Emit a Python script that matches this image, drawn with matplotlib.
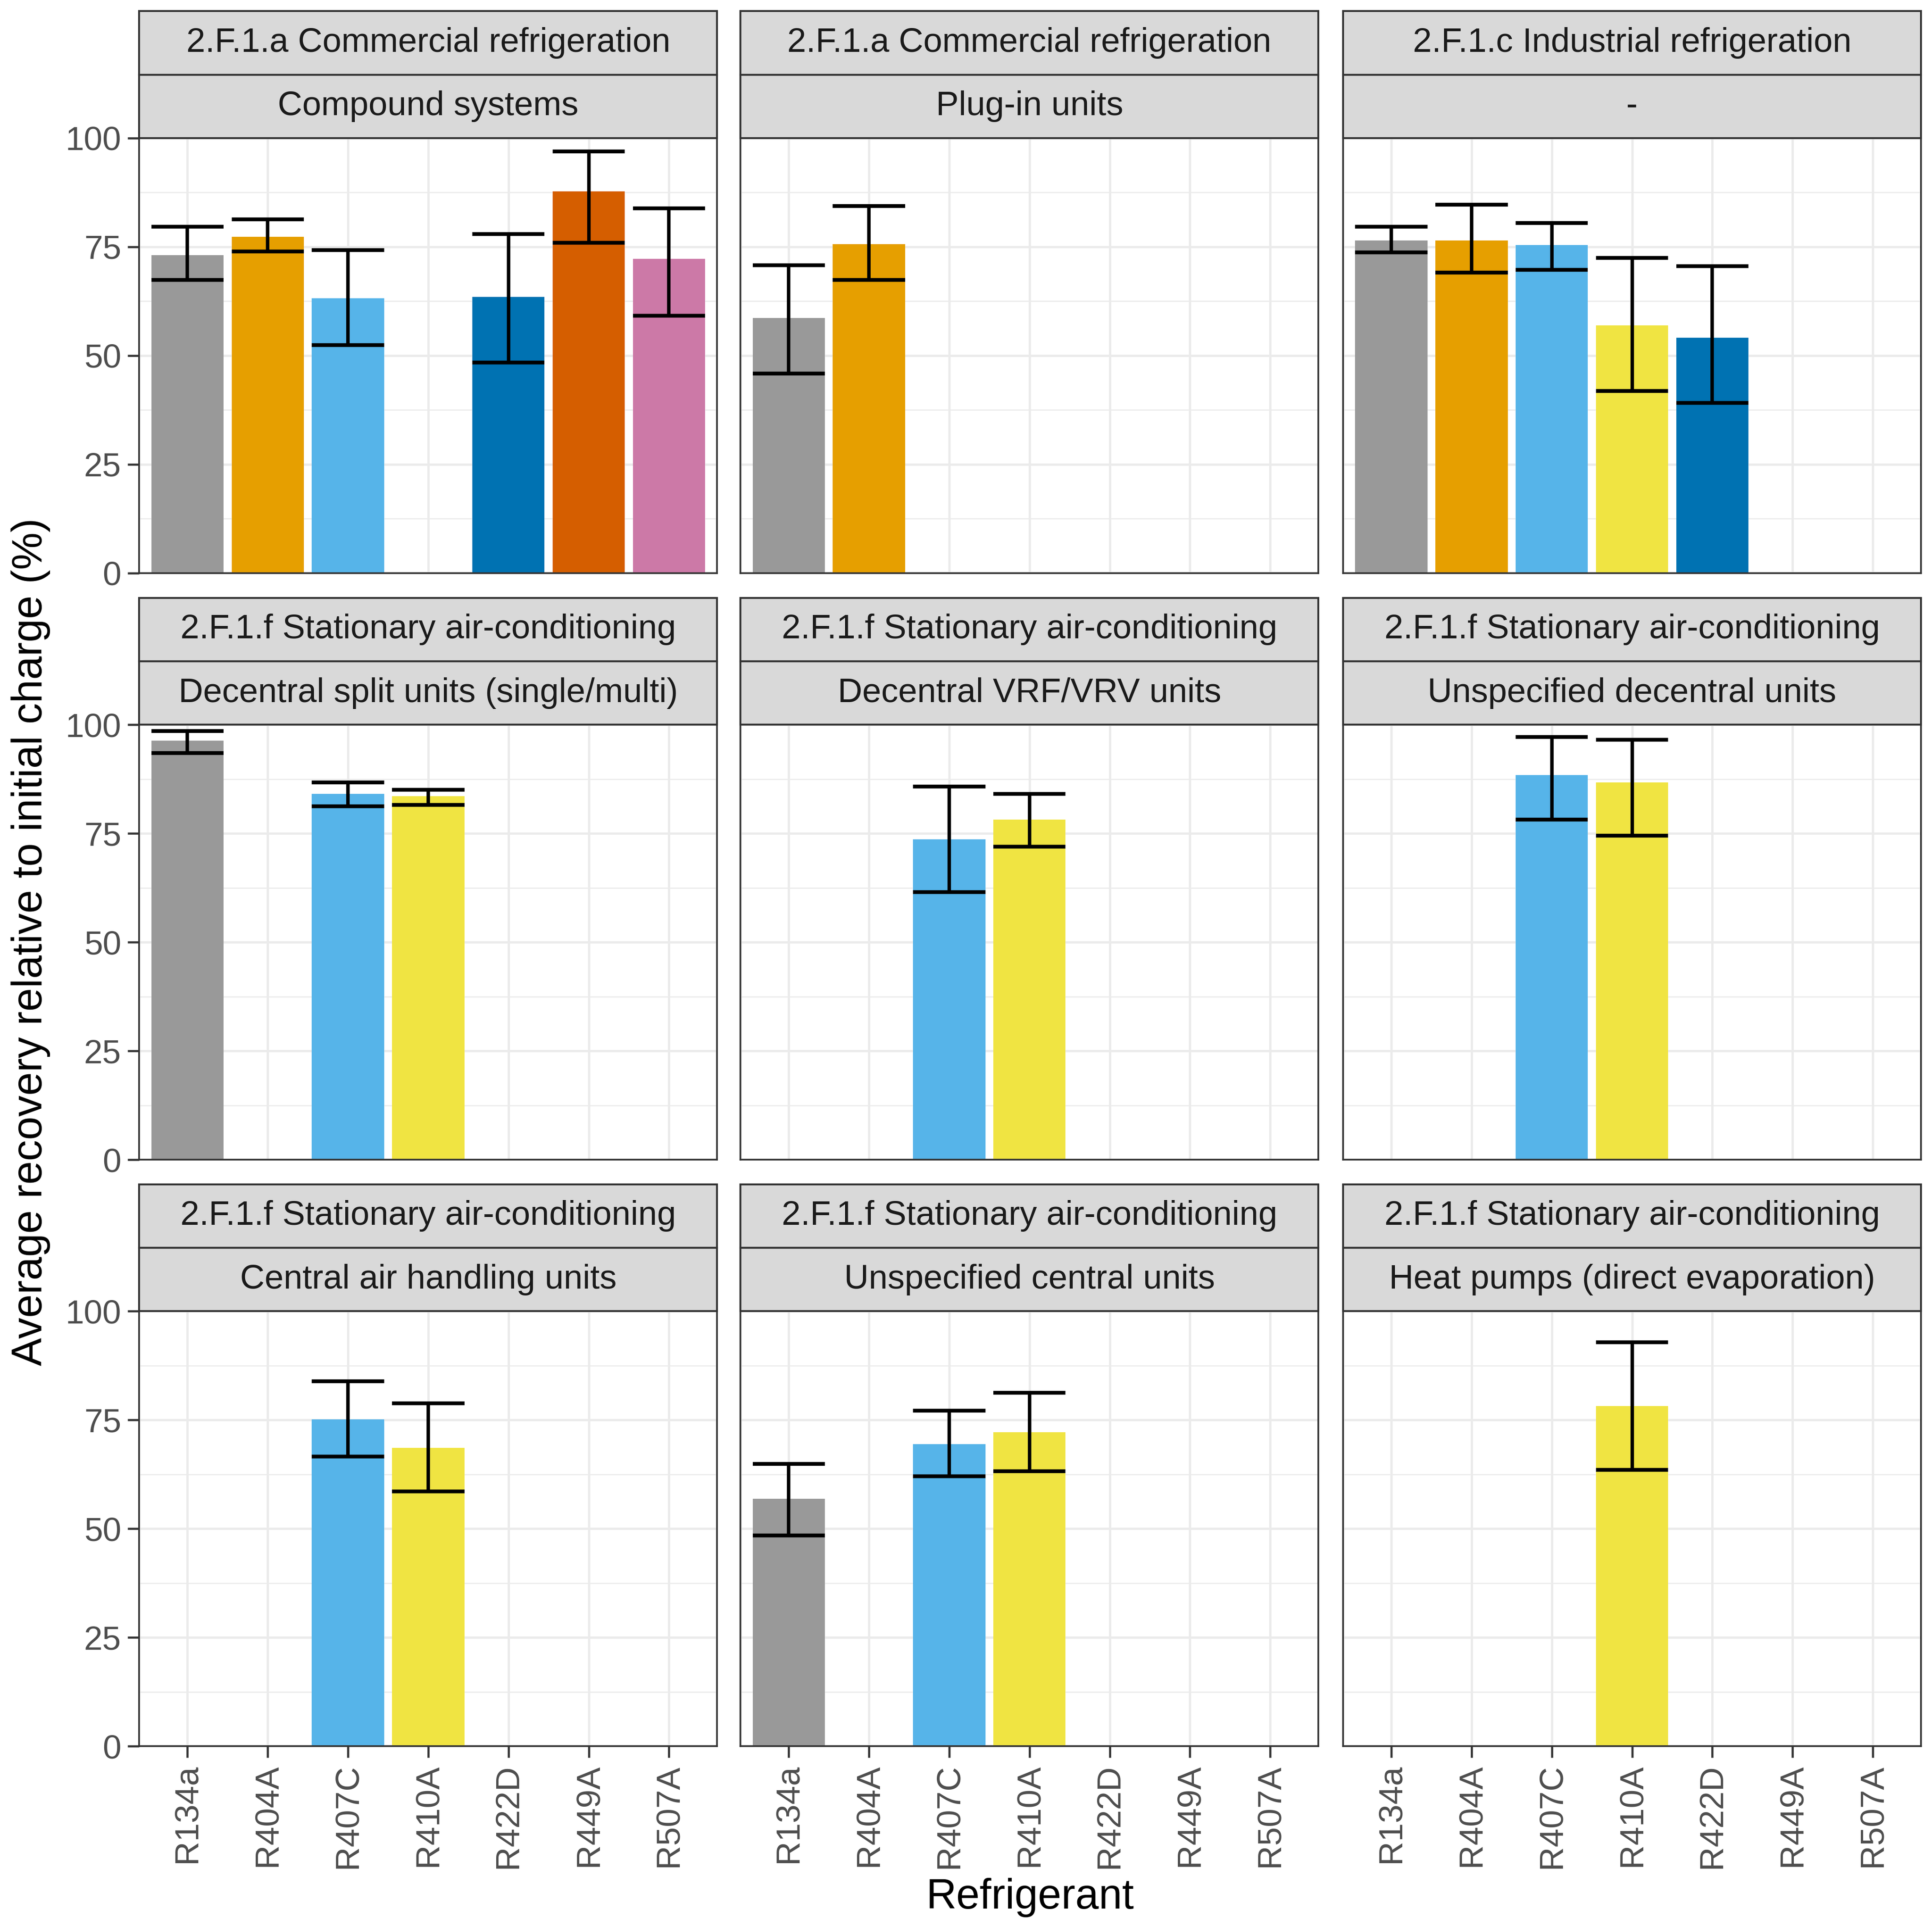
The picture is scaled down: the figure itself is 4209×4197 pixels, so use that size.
import numpy as np
import matplotlib
matplotlib.use('Agg')
import matplotlib.pyplot as plt
from matplotlib.patches import Rectangle

plt.rcParams['font.family'] = ['Liberation Sans', 'DejaVu Sans']

# ---------------------------------------------------------------------------
# Data
# ---------------------------------------------------------------------------
refrigerants = ['R134a', 'R404A', 'R407C', 'R410A', 'R422D', 'R449A', 'R507A']
colours = ['#999999', '#E69F00', '#56B4E9', '#F0E442', '#0072B2', '#D55E00', '#CC79A7']

sectors = ['2.F.1.a Commercial refrigeration',
           '2.F.1.a Commercial refrigeration',
           '2.F.1.c Industrial refrigeration',
           '2.F.1.f Stationary air-conditioning',
           '2.F.1.f Stationary air-conditioning',
           '2.F.1.f Stationary air-conditioning',
           '2.F.1.f Stationary air-conditioning',
           '2.F.1.f Stationary air-conditioning',
           '2.F.1.f Stationary air-conditioning']
subsectors = ['Compound systems',
              'Plug-in units',
              '-',
              'Decentral split units (single/multi)',
              'Decentral VRF/VRV units',
              'Unspecified decentral units',
              'Central air handling units',
              'Unspecified central units',
              'Heat pumps (direct evaporation)']

nan = np.nan
mean_recovery = [
    [73.1, 77.3, 63.2, nan, 63.5, 87.8, 72.2],
    [58.6, 75.6, nan, nan, nan, nan, nan],
    [76.5, 76.5, 75.4, 56.9, 54.1, nan, nan],
    [96.3, nan, 84.1, 83.6, nan, nan, nan],
    [nan, nan, 73.7, 78.2, nan, nan, nan],
    [nan, nan, 88.4, 86.7, nan, nan, nan],
    [nan, nan, 75.1, 68.6, nan, nan, nan],
    [56.9, nan, 69.4, 72.2, nan, nan, nan],
    [nan, nan, nan, 78.2, nan, nan, nan],
]
lower_ci = [
    [67.4, 73.9, 52.4, nan, 48.4, 75.9, 59.2],
    [45.9, 67.4, nan, nan, nan, nan, nan],
    [73.7, 69.1, 69.7, 41.9, 39.1, nan, nan],
    [93.5, nan, 81.3, 81.6, nan, nan, nan],
    [nan, nan, 61.5, 72.0, nan, nan, nan],
    [nan, nan, 78.2, 74.5, nan, nan, nan],
    [nan, nan, 66.6, 58.6, nan, nan, nan],
    [48.4, nan, 62.0, 63.2, nan, nan, nan],
    [nan, nan, nan, 63.5, nan, nan, nan],
]
upper_ci = [
    [79.6, 81.3, 74.2, nan, 77.9, 96.9, 83.9],
    [70.8, 84.4, nan, nan, nan, nan, nan],
    [79.6, 84.7, 80.5, 72.5, 70.5, nan, nan],
    [98.6, nan, 86.7, 85.0, nan, nan, nan],
    [nan, nan, 85.8, 84.1, nan, nan, nan],
    [nan, nan, 97.2, 96.6, nan, nan, nan],
    [nan, nan, 83.9, 78.8, nan, nan, nan],
    [64.9, nan, 77.1, 81.3, nan, nan, nan],
    [nan, nan, nan, 92.9, nan, nan, nan],
]

# ---------------------------------------------------------------------------
# Layout (figure fractions)
# ---------------------------------------------------------------------------
W_PX, H_PX, DPI = 4209, 4197, 300
col_left = [0.0721, 0.3833, 0.6952]
col_width = 0.2991
row_bottom = [0.7025, 0.3979, 0.0934]
row_height = 0.2258
strip_h = 0.146          # one strip, in axes fraction

fig = plt.figure(figsize=(W_PX / DPI, H_PX / DPI), dpi=DPI)

x = np.arange(len(refrigerants))
border_col = '#333333'
grid_col = '#EBEBEB'

for i in range(9):
    r, c = divmod(i, 3)
    ax = fig.add_axes([col_left[c], row_bottom[r], col_width, row_height])

    # grid
    for y in [12.5, 37.5, 62.5, 87.5]:
        ax.axhline(y, color=grid_col, lw=0.6, zorder=0)
    for y in [0, 25, 50, 75, 100]:
        ax.axhline(y, color=grid_col, lw=1.2, zorder=0)
    for xi in x:
        ax.axvline(xi, color=grid_col, lw=1.2, zorder=0)

    m = np.array(mean_recovery[i])
    lo = np.array(lower_ci[i])
    hi = np.array(upper_ci[i])
    ok = ~np.isnan(m)
    ax.bar(x[ok], m[ok], width=0.9, color=[colours[k] for k in x[ok]],
           zorder=2)
    ax.vlines(x[ok], lo[ok], hi[ok], color='black', lw=1.8, zorder=3)
    ax.hlines(lo[ok], x[ok] - 0.45, x[ok] + 0.45, color='black', lw=2.0, zorder=3)
    ax.hlines(hi[ok], x[ok] - 0.45, x[ok] + 0.45, color='black', lw=2.0, zorder=3)

    ax.set_xlim(-0.6, len(refrigerants) - 0.4)
    ax.set_ylim(0, 100)
    ax.set_xticks(x)
    ax.set_yticks([0, 25, 50, 75, 100])
    for sp in ax.spines.values():
        sp.set_color(border_col)
        sp.set_linewidth(0.9)
        sp.set_zorder(4)

    ax.tick_params(axis='both', colors=border_col, width=1.1, length=6,
                   labelcolor='#4D4D4D', labelsize=17.5)
    if c == 0:
        ax.set_yticklabels(['0', '25', '50', '75', '100'])
    else:
        ax.tick_params(axis='y', left=False, labelleft=False)
    if r == 2:
        ax.set_xticklabels(refrigerants, rotation=90)
    else:
        ax.tick_params(axis='x', bottom=False, labelbottom=False)

    # facet strips (two levels)
    for k, label in enumerate([subsectors[i], sectors[i]]):
        y0 = 1.0 + k * strip_h
        ax.add_patch(Rectangle((0, y0), 1, strip_h, transform=ax.transAxes,
                               facecolor='#D9D9D9', edgecolor=border_col,
                               lw=1.0, clip_on=False, zorder=5))
        ax.text(0.5, y0 + strip_h / 2, label, transform=ax.transAxes,
                ha='center', va='center', fontsize=17.8, color='#1A1A1A',
                zorder=6)

fig.text(0.016, 0.511, 'Average recovery relative to initial charge (%)',
         rotation=90, ha='center', va='center', fontsize=22, color='black')
fig.text(0.5332, 0.0147, 'Refrigerant', ha='center', va='center',
         fontsize=22, color='black')

fig.savefig('out.png', dpi=DPI, facecolor='white')
